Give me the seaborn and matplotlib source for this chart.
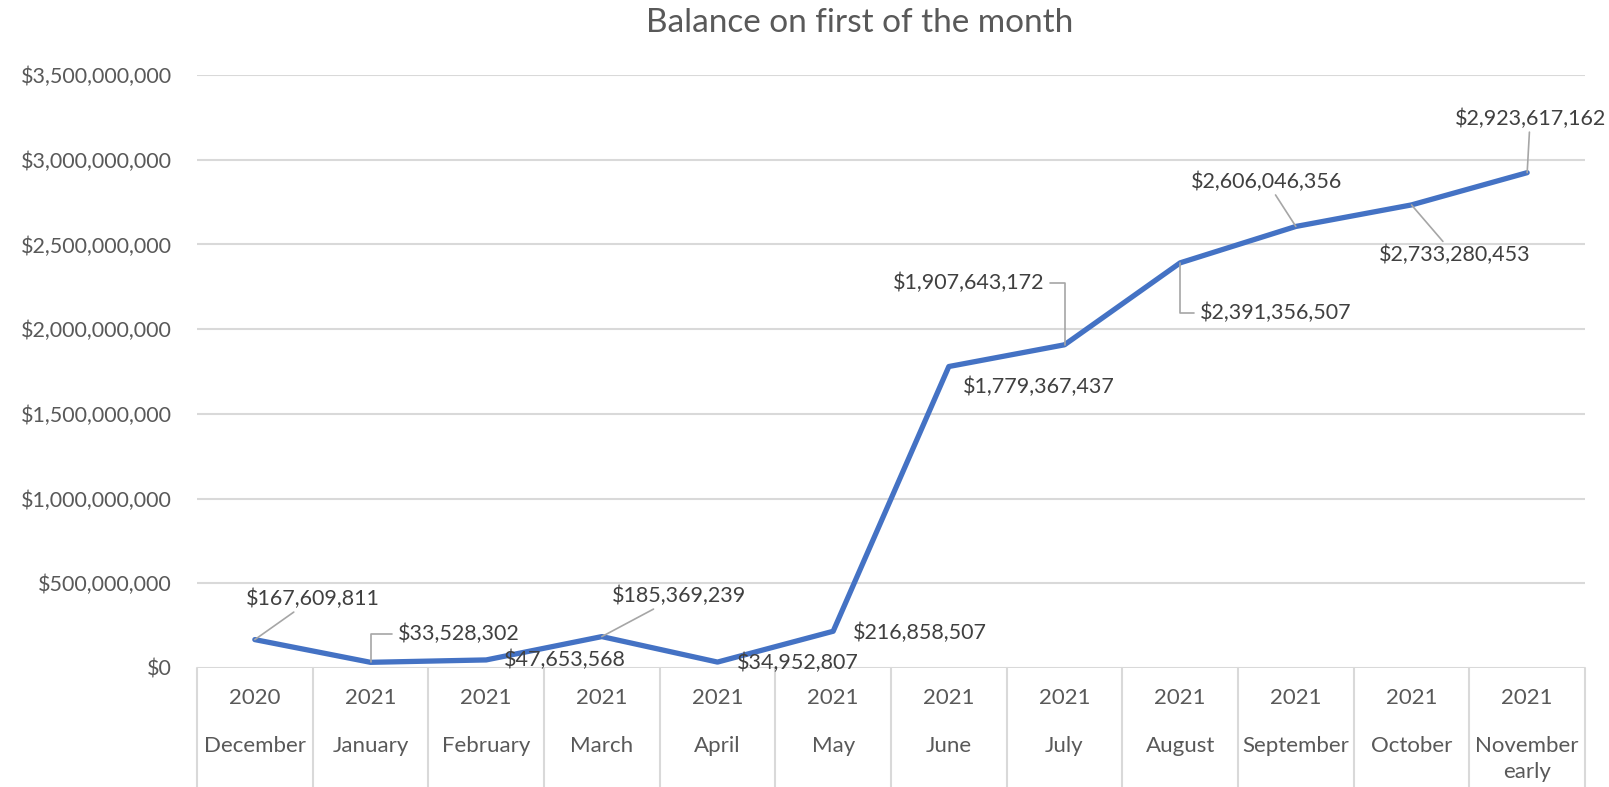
import matplotlib
matplotlib.use("Agg")
import matplotlib.pyplot as plt
import matplotlib.transforms as mtransforms
from matplotlib.ticker import FuncFormatter
import numpy as np
import pandas as pd
import seaborn as sns

# Data
years = ["2020", "2021", "2021", "2021", "2021", "2021",
         "2021", "2021", "2021", "2021", "2021", "2021"]
months = ["December", "January", "February", "March", "April", "May",
          "June", "July", "August", "September", "October", "November\nearly"]
balance = [167609811, 33528302, 47653568, 185369239, 34952807, 216858507,
           1779367437, 1907643172, 2391356507, 2606046356, 2733280453, 2923617162]
y_ticks = np.arange(0, 3.5e9 + 1, 5e8)

# label placement (pixel offsets from the point) and leader style
label_offsets = [(58, 41), (88, 28), (79, 0), (77, 41), (80, -1), (87, -2),
                 (90, -20), (-96, 62), (96, -50), (-29, 45), (43, -50), (3, 54)]
leaders = ["line", "elbow_l", None, "line", None, None,
           None, "elbow_r", "elbow_l", "line", "line", "line"]

df = pd.DataFrame({"pos": np.arange(len(balance)), "balance": balance})

sns.set_style("white")
plt.rcParams["font.family"] = ["Lato", "DejaVu Sans"]
txt_color = "#595959"
grid_color = "#D9D9D9"
lead_color = "#A6A6A6"

fig = plt.figure(figsize=(16.09, 7.87), dpi=100)
ax = fig.add_axes([197 / 1609, 1 - 668 / 787, (1585 - 197) / 1609, (668 - 75) / 787])

sns.lineplot(data=df, x="pos", y="balance", ax=ax, color="#4472C4",
             linewidth=3.8, solid_capstyle="round", solid_joinstyle="round", zorder=3)

ax.set_xlim(-0.5, len(balance) - 0.5)
ax.set_ylim(0, 3.5e9)
ax.set_yticks(y_ticks)
ax.yaxis.set_major_formatter(FuncFormatter(lambda v, p: f"${v:,.0f}"))
ax.tick_params(axis="y", length=0, pad=18, labelsize=15.5, labelcolor=txt_color)
ax.set_xticks([])
ax.set_xlabel("")
ax.set_ylabel("")
ax.grid(axis="y", color=grid_color, linewidth=1.5)
ax.set_axisbelow(True)
for s in ax.spines.values():
    s.set_visible(False)

# category axis box
trans = mtransforms.blended_transform_factory(ax.transData, ax.transAxes)
for i in range(len(balance) + 1):
    ax.plot([i - 0.5, i - 0.5], [0, -0.3], transform=trans, color=grid_color,
            linewidth=1.5, clip_on=False)
for i, (yr, mo) in enumerate(zip(years, months)):
    ax.text(i, -0.05, yr, transform=trans, ha="center", va="center",
            fontsize=16, color=txt_color)
    ax.text(i, -0.114, mo, transform=trans, ha="center", va="top",
            fontsize=16, color=txt_color, linespacing=1.4)

# data labels
for i, v in enumerate(balance):
    kw = dict(xy=(i, v), xytext=label_offsets[i], textcoords="offset pixels",
              ha="center", va="center", fontsize=15.5, color="#404040", zorder=4)
    style = leaders[i]
    if style == "line":
        kw["arrowprops"] = dict(arrowstyle="-", color=lead_color, lw=1.2,
                                shrinkA=0, shrinkB=0)
    elif style == "elbow_l":
        kw["arrowprops"] = dict(arrowstyle="-", color=lead_color, lw=1.2,
                                shrinkA=2, shrinkB=0, relpos=(0, 0.5),
                                connectionstyle="angle,angleA=0,angleB=90,rad=0")
    elif style == "elbow_r":
        kw["arrowprops"] = dict(arrowstyle="-", color=lead_color, lw=1.2,
                                shrinkA=2, shrinkB=0, relpos=(1, 0.5),
                                connectionstyle="angle,angleA=0,angleB=90,rad=0")
    ax.annotate(f"${v:,.0f}", **kw)

fig.text(860 / 1609, 1 - 23 / 787, "Balance on first of the month",
         ha="center", va="center", fontsize=24, color=txt_color)

fig.savefig("out.png", dpi=100)
